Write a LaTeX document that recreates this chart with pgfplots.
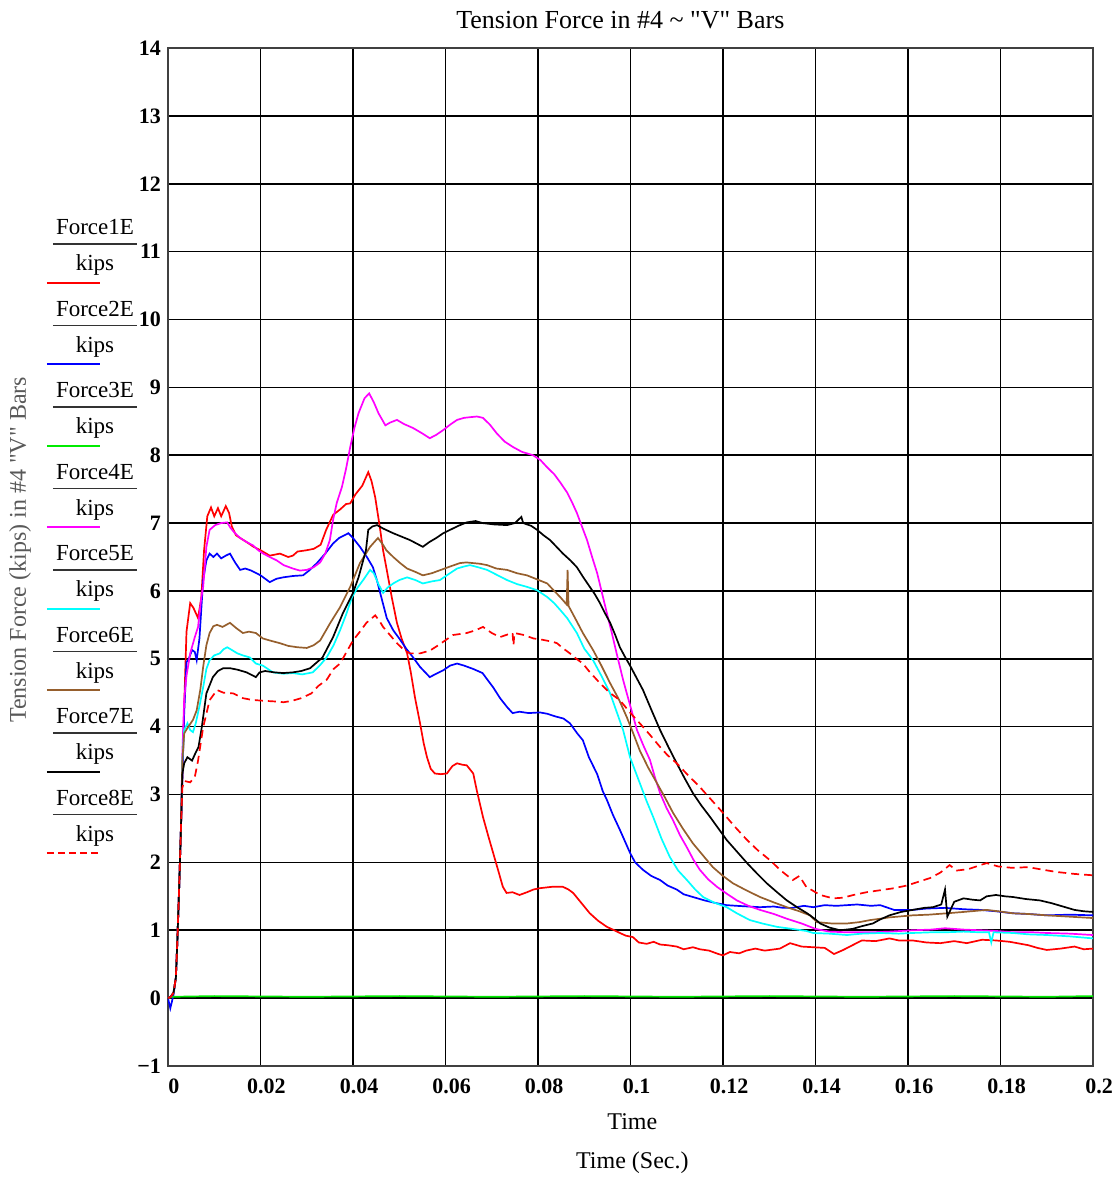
\documentclass[border=0pt]{standalone}
\usepackage{pgfplots}
\pgfplotsset{compat=1.18}
\usepackage{fontspec}
\setmainfont{Liberation Serif}
\newfontfamily\rawserif{Liberation Serif}
\newcommand{\q}{{\rawserif"}}
\definecolor{mcbrown}{RGB}{150,95,45}
\definecolor{mcgreen}{RGB}{0,235,0}
\definecolor{mccyan}{RGB}{0,255,255}
\definecolor{mcmagenta}{RGB}{255,0,255}
\definecolor{mcred}{RGB}{255,0,0}
\definecolor{mcblue}{RGB}{0,0,255}
\tikzset{dasheight/.style={dash pattern=on 4pt off 2.5pt}}
\begin{document}
\begin{tikzpicture}
\useasboundingbox (-84pt,-55.5pt) rectangle (474.5pt,533pt);
\begin{axis}[
  at={(0,0)}, anchor=south west,
  scale only axis, width=462.5pt, height=509pt,
  xmin=0, xmax=0.2, ymin=-1, ymax=14,
  xtick={0,0.02,0.04,0.06,0.08,0.1,0.12,0.14,0.16,0.18,0.2},
  xticklabels={0,0.02,0.04,0.06,0.08,0.1,0.12,0.14,0.16,0.18,0.2},
  ytick={-1,0,1,2,3,4,5,6,7,8,9,10,11,12,13,14},
  yticklabels={−1,0,1,2,3,4,5,6,7,8,9,10,11,12,13,14},
  grid=major, major grid style={black, line width=0.8pt},
  major tick length=0pt,
  axis line style={black!75, line width=1pt},
  tick label style={font=\bfseries\fontsize{11}{13}\selectfont},
  xticklabel style={yshift=-3pt, xshift=3pt},
  title={Tension Force in \#4 \char`\~{} \q V\q{} Bars},
  title style={font=\fontsize{13}{15}\selectfont, at={(axis description cs:0.489,1.0157)}, anchor=center},
  xlabel={Time\\[5pt]Time (Sec.)},
  xlabel style={font=\fontsize{12}{14.4}\selectfont, align=center, at={(axis description cs:0.502,-0.0766)}, anchor=center},
  ylabel={Tension Force (kips) in \#4 \q V\q{} Bars},
  ylabel style={font=\fontsize{12}{14.4}\selectfont, text=black!65, at={(axis description cs:-0.16,0.507)}, anchor=center},
  every axis plot/.append style={line width=0.85pt},
]
% Force1E
\addplot[mcred] coordinates {(0,0) (0.0006,0.02) (0.0012,0.08) (0.0017,0.3) (0.002,0.8) (0.0024,1.6) (0.0028,2.5) (0.0031,3.2)
(0.0035,4.3) (0.0040,5.4) (0.0048,5.82) (0.0055,5.75) (0.0065,5.6) (0.0072,5.9) (0.0078,6.6) (0.0085,7.1) (0.0093,7.23) (0.0100,7.1) (0.0108,7.22) (0.0115,7.1) (0.0125,7.25) (0.0132,7.15) (0.0138,6.95) (0.0147,6.82) (0.0156,6.78) (0.017,6.72) (0.0185,6.65) (0.02,6.6) (0.022,6.52) (0.0242,6.55) (0.026,6.5) (0.027,6.52) (0.028,6.58) (0.030,6.6) (0.0315,6.62) (0.033,6.68) (0.0342,6.9) (0.0357,7.12) (0.0372,7.2) (0.0385,7.28) (0.0394,7.29) (0.0405,7.42) (0.042,7.55) (0.0433,7.75) (0.044,7.62) (0.0448,7.38) (0.0458,6.94) (0.0465,6.6) (0.0473,6.31) (0.0484,5.9) (0.0495,5.53) (0.0505,5.3) (0.0517,5.08) (0.0525,4.8) (0.0534,4.43) (0.0545,4.05) (0.0553,3.75) (0.056,3.55) (0.0568,3.38) (0.0577,3.31) (0.059,3.3) (0.0603,3.31) (0.0615,3.42) (0.0625,3.46) (0.0636,3.44) (0.0646,3.43) (0.066,3.31) (0.0668,3.05) (0.0681,2.67) (0.0692,2.4) (0.0703,2.14) (0.0714,1.88) (0.0724,1.64) (0.0732,1.55) (0.0745,1.56) (0.076,1.52) (0.0776,1.56) (0.079,1.6) (0.0804,1.62) (0.083,1.64) (0.0854,1.64) (0.0866,1.6) (0.0876,1.55) (0.0894,1.4) (0.0912,1.25) (0.093,1.14) (0.0949,1.05) (0.0965,1.0) (0.0977,0.96) (0.099,0.92) (0.1005,0.9) (0.1018,0.82) (0.1035,0.8) (0.105,0.83) (0.1064,0.79) (0.108,0.78) (0.11,0.76) (0.1115,0.72) (0.1135,0.75) (0.115,0.72) (0.117,0.7) (0.119,0.65) (0.12,0.63) (0.1215,0.68) (0.1235,0.66) (0.125,0.7) (0.127,0.73) (0.129,0.7) (0.1323,0.73) (0.1345,0.81) (0.137,0.76) (0.1395,0.75) (0.142,0.74) (0.144,0.65) (0.146,0.71) (0.148,0.78) (0.150,0.85) (0.153,0.84) (0.156,0.88) (0.158,0.85) (0.161,0.85) (0.164,0.82) (0.167,0.81) (0.170,0.84) (0.1727,0.81) (0.176,0.86) (0.179,0.85) (0.182,0.83) (0.186,0.78) (0.188,0.74) (0.19,0.71) (0.193,0.73) (0.196,0.76) (0.198,0.72) (0.2,0.73)};
% Force2E
\addplot[mcblue] coordinates {(0,0) (0.0005,-0.15) (0.0012,0.05) (0.0017,0.3) (0.002,0.8) (0.0024,1.6) (0.0028,2.5) (0.0031,3.2)
(0.0035,4.2) (0.0040,4.95) (0.0045,5.0) (0.0052,5.13) (0.0058,5.1) (0.0062,4.98) (0.0068,5.3) (0.0076,6.16) (0.0083,6.45) (0.009,6.55) (0.0098,6.5) (0.0106,6.55) (0.0115,6.48) (0.0125,6.52) (0.0134,6.55) (0.0145,6.42) (0.0156,6.31) (0.0167,6.33) (0.018,6.3) (0.02,6.23) (0.021,6.18) (0.022,6.13) (0.0235,6.18) (0.0249,6.2) (0.027,6.22) (0.0292,6.23) (0.0305,6.3) (0.0322,6.41) (0.034,6.55) (0.0357,6.7) (0.037,6.78) (0.039,6.85) (0.040,6.78) (0.0415,6.65) (0.043,6.5) (0.0443,6.35) (0.0452,6.15) (0.0463,5.86) (0.0473,5.6) (0.0487,5.42) (0.050,5.3) (0.0515,5.15) (0.053,5.02) (0.0545,4.88) (0.0566,4.73) (0.058,4.78) (0.0595,4.83) (0.061,4.9) (0.0625,4.93) (0.064,4.9) (0.066,4.85) (0.068,4.79) (0.0692,4.68) (0.0703,4.58) (0.0718,4.42) (0.0733,4.29) (0.0745,4.2) (0.076,4.22) (0.078,4.2) (0.0804,4.21) (0.082,4.19) (0.0838,4.15) (0.0855,4.12) (0.0869,4.05) (0.0885,3.9) (0.0897,3.8) (0.091,3.55) (0.0928,3.3) (0.094,3.05) (0.0949,2.92) (0.0962,2.7) (0.0977,2.48) (0.099,2.28) (0.0999,2.14) (0.101,2.0) (0.1027,1.89) (0.1045,1.8) (0.1064,1.74) (0.108,1.66) (0.11,1.6) (0.1115,1.53) (0.1135,1.49) (0.116,1.44) (0.1185,1.4) (0.1208,1.37) (0.123,1.36) (0.1255,1.35) (0.128,1.34) (0.131,1.35) (0.133,1.33) (0.135,1.33) (0.1375,1.36) (0.1395,1.34) (0.142,1.37) (0.1445,1.36) (0.1468,1.37) (0.149,1.38) (0.152,1.36) (0.154,1.37) (0.157,1.3) (0.161,1.3) (0.164,1.32) (0.168,1.33) (0.172,1.31) (0.1756,1.3) (0.179,1.28) (0.1827,1.25) (0.186,1.24) (0.19,1.22) (0.195,1.23) (0.2,1.22)};
% Force3E
\addplot[mcgreen] coordinates {(0,0.0) (0.001,0.02) (0.01,0.03) (0.03,0.02) (0.05,0.03) (0.07,0.02) (0.09,0.03) (0.11,0.02) (0.13,0.03) (0.15,0.02) (0.17,0.03) (0.19,0.02) (0.2,0.03)};
% Force4E
\addplot[mcmagenta] coordinates {(0,0) (0.0006,0.02) (0.0012,0.08) (0.0017,0.3) (0.002,0.8) (0.0024,1.6) (0.0028,2.5)
(0.0031,3.6) (0.0035,4.4) (0.0040,4.75) (0.0048,5.08) (0.0058,5.32) (0.0065,5.47) (0.0072,5.9) (0.0076,6.06) (0.0083,6.65) (0.009,6.9) (0.0102,6.97) (0.0115,7.0) (0.0128,7.01) (0.0135,6.93) (0.0145,6.85) (0.0156,6.78) (0.017,6.72) (0.0184,6.67) (0.0195,6.6) (0.0206,6.55) (0.022,6.5) (0.0235,6.45) (0.025,6.38) (0.027,6.33) (0.0285,6.3) (0.030,6.31) (0.0315,6.35) (0.0329,6.42) (0.034,6.55) (0.035,6.75) (0.0357,7.05) (0.0365,7.3) (0.0376,7.53) (0.0385,7.8) (0.0394,8.12) (0.0403,8.4) (0.0412,8.62) (0.0425,8.84) (0.0435,8.91) (0.0445,8.78) (0.0455,8.62) (0.047,8.44) (0.048,8.48) (0.0495,8.52) (0.051,8.46) (0.053,8.4) (0.055,8.32) (0.0566,8.25) (0.058,8.3) (0.0595,8.37) (0.061,8.45) (0.0625,8.52) (0.064,8.55) (0.0653,8.56) (0.0668,8.57) (0.0681,8.55) (0.0696,8.45) (0.0711,8.32) (0.0728,8.2) (0.0746,8.12) (0.0765,8.05) (0.0789,8.0) (0.0805,7.93) (0.082,7.82) (0.0835,7.72) (0.0848,7.6) (0.0863,7.45) (0.0874,7.3) (0.0884,7.15) (0.0895,6.95) (0.0906,6.75) (0.0917,6.5) (0.0928,6.26) (0.0938,5.98) (0.0949,5.67) (0.096,5.37) (0.097,5.08) (0.0984,4.69) (0.0992,4.49) (0.1003,4.22) (0.1014,3.95) (0.1028,3.72) (0.1042,3.51) (0.1053,3.25) (0.1064,3.02) (0.1078,2.8) (0.1092,2.62) (0.1107,2.4) (0.1122,2.22) (0.1136,2.04) (0.115,1.89) (0.1168,1.75) (0.1187,1.64) (0.121,1.53) (0.123,1.44) (0.1255,1.36) (0.128,1.3) (0.131,1.24) (0.1338,1.17) (0.137,1.1) (0.14,1.02) (0.143,0.98) (0.147,0.97) (0.152,0.97) (0.156,0.98) (0.161,1.0) (0.165,1.01) (0.168,1.03) (0.172,1.01) (0.1756,1.0) (0.179,0.99) (0.1827,0.97) (0.187,0.97) (0.19,0.96) (0.195,0.95) (0.2,0.93)};
% Force5E
\addplot[mccyan] coordinates {(0,0) (0.0006,0.02) (0.0012,0.08) (0.0017,0.3) (0.002,0.8) (0.0024,1.6) (0.0028,2.5)
(0.0031,3.5) (0.0035,3.95) (0.0042,4.05) (0.0048,3.95) (0.0054,3.92) (0.006,4.05) (0.0068,4.3) (0.0076,4.58) (0.0083,4.85) (0.009,4.98) (0.01,5.05) (0.0112,5.08) (0.012,5.14) (0.0128,5.17) (0.0138,5.13) (0.015,5.08) (0.0162,5.05) (0.0177,5.02) (0.019,4.93) (0.0205,4.9) (0.0227,4.8) (0.025,4.78) (0.027,4.79) (0.029,4.77) (0.0313,4.8) (0.0328,4.9) (0.0343,5.02) (0.0358,5.2) (0.0372,5.42) (0.0385,5.65) (0.0398,5.91) (0.041,6.05) (0.0422,6.16) (0.0437,6.31) (0.0445,6.26) (0.0455,6.1) (0.0465,5.97) (0.0475,6.05) (0.0487,6.11) (0.050,6.16) (0.0517,6.2) (0.0535,6.16) (0.0551,6.11) (0.057,6.14) (0.0588,6.16) (0.0605,6.24) (0.0625,6.33) (0.064,6.36) (0.0653,6.38) (0.067,6.35) (0.069,6.31) (0.071,6.24) (0.0733,6.16) (0.0755,6.1) (0.0776,6.06) (0.0798,6.01) (0.082,5.91) (0.0835,5.82) (0.0848,5.72) (0.0863,5.6) (0.0884,5.38) (0.09,5.15) (0.0919,4.98) (0.0937,4.75) (0.0956,4.49) (0.097,4.22) (0.0984,3.95) (0.0999,3.55) (0.101,3.35) (0.102,3.17) (0.1035,2.9) (0.1049,2.67) (0.1067,2.35) (0.1085,2.08) (0.1103,1.88) (0.1122,1.74) (0.114,1.6) (0.1157,1.49) (0.118,1.41) (0.1208,1.34) (0.123,1.25) (0.1258,1.15) (0.1285,1.1) (0.1317,1.05) (0.135,1.02) (0.138,0.99) (0.1395,0.96) (0.143,0.95) (0.1468,0.93) (0.15,0.95) (0.154,0.96) (0.158,0.95) (0.161,0.96) (0.165,0.97) (0.168,0.97) (0.172,0.98) (0.1756,0.97) (0.1775,0.97) (0.178,0.82) (0.1785,0.97) (0.1827,0.96) (0.186,0.94) (0.19,0.93) (0.195,0.91) (0.2,0.88)};
% Force6E
\addplot[mcbrown] coordinates {(0,0) (0.0006,0.02) (0.0012,0.08) (0.0017,0.3) (0.002,0.8) (0.0024,1.6) (0.0028,2.5)
(0.0031,3.5) (0.0035,3.9) (0.0042,3.98) (0.0054,4.1) (0.0062,4.24) (0.007,4.55) (0.0076,4.88) (0.0083,5.2) (0.009,5.38) (0.0098,5.48) (0.0106,5.5) (0.0118,5.47) (0.0134,5.53) (0.0148,5.45) (0.0162,5.38) (0.0175,5.4) (0.019,5.38) (0.0205,5.3) (0.022,5.27) (0.0242,5.23) (0.026,5.19) (0.028,5.17) (0.030,5.16) (0.0315,5.2) (0.0329,5.27) (0.034,5.4) (0.0351,5.53) (0.0372,5.76) (0.0394,6.06) (0.0415,6.41) (0.0437,6.65) (0.0454,6.78) (0.0465,6.68) (0.0472,6.6) (0.0487,6.5) (0.0502,6.41) (0.0517,6.33) (0.0535,6.28) (0.0551,6.23) (0.057,6.26) (0.059,6.31) (0.061,6.36) (0.0631,6.41) (0.0645,6.42) (0.066,6.41) (0.0675,6.4) (0.069,6.38) (0.071,6.33) (0.0733,6.31) (0.0755,6.26) (0.0776,6.23) (0.0798,6.17) (0.082,6.11) (0.0835,6.0) (0.0848,5.91) (0.0862,5.8) (0.0864,6.31) (0.0866,5.78) (0.0884,5.55) (0.0897,5.38) (0.0919,5.13) (0.0937,4.9) (0.0956,4.64) (0.0975,4.4) (0.0992,4.14) (0.1006,3.9) (0.102,3.65) (0.1038,3.4) (0.1057,3.17) (0.1075,2.95) (0.1092,2.73) (0.1113,2.5) (0.1135,2.28) (0.1157,2.1) (0.1178,1.93) (0.12,1.8) (0.1222,1.69) (0.125,1.59) (0.128,1.49) (0.131,1.41) (0.1338,1.34) (0.1365,1.28) (0.1388,1.22) (0.1403,1.12) (0.1435,1.1) (0.1468,1.1) (0.1495,1.12) (0.1518,1.15) (0.154,1.17) (0.156,1.19) (0.161,1.22) (0.1645,1.23) (0.1684,1.25) (0.172,1.27) (0.177,1.3) (0.1795,1.28) (0.1827,1.25) (0.186,1.24) (0.19,1.22) (0.195,1.2) (0.2,1.18)};
% Force7E
\addplot[black] coordinates {(0,0) (0.0006,0.02) (0.0012,0.08) (0.0017,0.3) (0.002,0.8) (0.0024,1.6) (0.0028,2.5)
(0.0031,3.3) (0.0035,3.46) (0.0042,3.55) (0.0052,3.5) (0.006,3.62) (0.0066,3.7) (0.0073,3.99) (0.0083,4.49) (0.0097,4.73) (0.0108,4.82) (0.0119,4.86) (0.0135,4.86) (0.0150,4.84) (0.017,4.8) (0.019,4.73) (0.0198,4.8) (0.021,4.82) (0.023,4.8) (0.0249,4.79) (0.027,4.8) (0.0288,4.82) (0.0307,4.86) (0.0334,5.02) (0.0357,5.32) (0.0378,5.67) (0.04,5.97) (0.0412,6.2) (0.0422,6.45) (0.0428,6.6) (0.0433,6.9) (0.0442,6.95) (0.0452,6.97) (0.0465,6.92) (0.0487,6.85) (0.0505,6.8) (0.0523,6.75) (0.0537,6.7) (0.0551,6.65) (0.0565,6.72) (0.058,6.78) (0.0595,6.85) (0.061,6.9) (0.0628,6.96) (0.0646,7.01) (0.0665,7.03) (0.068,7.0) (0.0705,6.98) (0.0733,6.97) (0.075,7.0) (0.0764,7.09) (0.0768,7.0) (0.0785,6.96) (0.0798,6.9) (0.0812,6.82) (0.0826,6.75) (0.084,6.65) (0.0854,6.55) (0.087,6.45) (0.0884,6.35) (0.0898,6.2) (0.0912,6.06) (0.0923,5.95) (0.0934,5.82) (0.0945,5.67) (0.0956,5.53) (0.0967,5.35) (0.0977,5.17) (0.0988,5.03) (0.0999,4.9) (0.1013,4.72) (0.1027,4.54) (0.1045,4.25) (0.1064,3.95) (0.1082,3.7) (0.11,3.46) (0.1117,3.24) (0.1135,3.02) (0.1153,2.84) (0.1172,2.67) (0.119,2.5) (0.1208,2.33) (0.123,2.16) (0.1252,1.99) (0.1273,1.84) (0.1295,1.69) (0.1317,1.56) (0.1338,1.44) (0.136,1.34) (0.1382,1.25) (0.14,1.16) (0.141,1.1) (0.143,1.04) (0.1453,1.0) (0.148,1.02) (0.150,1.06) (0.1524,1.1) (0.154,1.16) (0.156,1.22) (0.1585,1.27) (0.161,1.3) (0.1635,1.33) (0.1654,1.34) (0.1672,1.38) (0.168,1.6) (0.1685,1.2) (0.17,1.42) (0.172,1.47) (0.174,1.45) (0.1756,1.44) (0.177,1.5) (0.179,1.52) (0.181,1.5) (0.1827,1.49) (0.1855,1.46) (0.1885,1.44) (0.191,1.4) (0.1935,1.35) (0.196,1.3) (0.198,1.28) (0.2,1.27)};
% Force8E
\addplot[mcred, dasheight] coordinates {(0,0) (0.0006,0.02) (0.0012,0.08) (0.0017,0.3) (0.002,0.8) (0.0024,1.6) (0.0028,2.5)
(0.0031,3.1) (0.0035,3.2) (0.0048,3.18) (0.0058,3.26) (0.0065,3.5) (0.0076,3.99) (0.009,4.39) (0.0106,4.54) (0.012,4.5) (0.0141,4.49) (0.0162,4.42) (0.0177,4.4) (0.019,4.39) (0.021,4.38) (0.0235,4.37) (0.025,4.36) (0.0268,4.38) (0.0288,4.42) (0.031,4.49) (0.0325,4.6) (0.0343,4.69) (0.0358,4.85) (0.0372,4.93) (0.0386,5.1) (0.04,5.27) (0.0415,5.4) (0.0429,5.53) (0.0448,5.64) (0.0458,5.55) (0.0465,5.47) (0.048,5.35) (0.0495,5.23) (0.051,5.13) (0.0523,5.08) (0.0545,5.08) (0.0566,5.12) (0.058,5.18) (0.0595,5.25) (0.0616,5.35) (0.0646,5.38) (0.0665,5.42) (0.0681,5.47) (0.07,5.38) (0.0718,5.32) (0.0735,5.36) (0.0745,5.38) (0.0747,5.2) (0.0749,5.38) (0.077,5.35) (0.079,5.3) (0.081,5.28) (0.0832,5.25) (0.0841,5.23) (0.0855,5.15) (0.0869,5.08) (0.0883,5.0) (0.0897,4.93) (0.091,4.82) (0.0922,4.73) (0.0934,4.64) (0.0955,4.5) (0.0977,4.39) (0.1,4.2) (0.102,4.05) (0.1042,3.88) (0.1064,3.7) (0.108,3.58) (0.11,3.46) (0.1125,3.28) (0.115,3.11) (0.1175,2.92) (0.12,2.73) (0.1225,2.53) (0.1252,2.33) (0.1275,2.18) (0.1302,2.03) (0.1325,1.88) (0.1351,1.74) (0.1365,1.8) (0.138,1.64) (0.141,1.52) (0.1438,1.47) (0.146,1.48) (0.1482,1.52) (0.151,1.56) (0.154,1.59) (0.157,1.62) (0.1598,1.66) (0.1625,1.72) (0.1648,1.77) (0.167,1.85) (0.169,1.96) (0.1705,1.88) (0.173,1.9) (0.1752,1.95) (0.177,1.99) (0.1795,1.94) (0.1825,1.92) (0.186,1.93) (0.1885,1.9) (0.192,1.86) (0.196,1.83) (0.2,1.81)};
\end{axis}
% legend (Mathcad style)
\foreach \k in {1,...,8} {
  \pgfmathsetmacro{\yy}{419.5-40.75*(\k-1)}
  \node[font=\fontsize{11.5}{13}\selectfont, anchor=base] at (-36.5pt,\yy pt-4pt) {Force\k E};
  \draw[black!80, line width=0.8pt] (-57.5pt,\yy pt-8.5pt) -- (-15.5pt,\yy pt-8.5pt);
  \node[font=\fontsize{11.5}{13}\selectfont, anchor=base] at (-36.5pt,\yy pt-22pt) {kips};
}
\draw[mcred, line width=1pt] (-60.5pt,391.5pt) -- (-34pt,391.5pt);
\draw[mcblue, line width=1pt] (-60.5pt,351pt) -- (-34pt,351pt);
\draw[mcgreen, line width=1pt] (-60.5pt,310pt) -- (-34pt,310pt);
\draw[mcmagenta, line width=1pt] (-60.5pt,269.5pt) -- (-34pt,269.5pt);
\draw[mccyan, line width=1pt] (-60.5pt,228.5pt) -- (-34pt,228.5pt);
\draw[mcbrown, line width=1pt] (-60.5pt,188pt) -- (-34pt,188pt);
\draw[black, line width=1pt] (-60.5pt,147pt) -- (-34pt,147pt);
\draw[mcred, line width=1pt, dash pattern=on 3.5pt off 2pt] (-60.5pt,106.5pt) -- (-34pt,106.5pt);
\end{tikzpicture}
\end{document}
